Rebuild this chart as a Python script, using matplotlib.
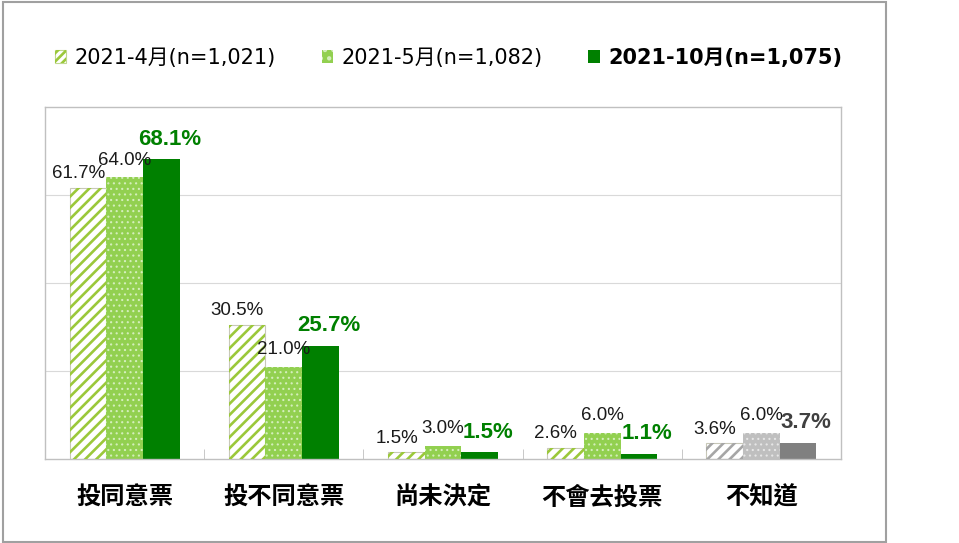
import matplotlib.pyplot as plt
from matplotlib.patches import Patch, Rectangle
from matplotlib.legend_handler import HandlerTuple
import numpy as np

plt.rcParams['font.family'] = ['Liberation Sans', 'Noto Sans CJK TC']
plt.rcParams['hatch.linewidth'] = 1.9

categories = ['投同意票', '投不同意票', '尚未決定', '不會去投票', '不知道']
series_names = ['2021-4月(n=1,021)', '2021-5月(n=1,082)', '2021-10月(n=1,075)']
apr = [61.7, 30.5, 1.5, 2.6, 3.6]
may = [64.0, 21.0, 3.0, 6.0, 6.0]
oct_ = [68.1, 25.7, 1.5, 1.1, 3.7]

# colours: green for the first four groups, grey for 不知道
stripe = ['#9bc83a'] * 4 + ['#a6a6a6']
dotted = ['#92d050'] * 4 + ['#bfbfbf']
dots = ['#d4eebc'] * 4 + ['#e6e6e6']
solid = ['#008000'] * 4 + ['#808080']
bold_txt = ['#008000'] * 4 + ['#404040']

fig = plt.figure(figsize=(9.59, 5.43), dpi=100)
ax = fig.add_axes([45 / 959, 84 / 543, 796 / 959, 352 / 543])

x = np.arange(len(categories))
w = 0.23

# hatched (April)
ax.bar(x - w, apr, w, color='white', edgecolor='#c8c8b8', linewidth=0.8, zorder=2)
ax.bar(x - w, apr, w, fill=False, edgecolor=stripe, hatch='///', linewidth=0, zorder=3)

# dotted (May)
ax.bar(x, may, w, color=dotted, linewidth=0, zorder=2)
d = ax.bar(x, may, w, fill=False, edgecolor=dots, hatch='...', linewidth=0, zorder=3)
for p in d:
    if hasattr(p, 'set_hatch_linewidth'):
        p.set_hatch_linewidth(0.8)

# solid (October)
ax.bar(x + w, oct_, w, color=solid, linewidth=0, zorder=2)

# value labels
for i in range(len(categories)):
    ax.annotate(f'{apr[i]:.1f}%', (x[i] - w, apr[i]), xytext=(-7, 4), textcoords='offset points',
                ha='center', va='bottom', fontsize=13.5, color='#1a1a1a', zorder=5)
    ax.annotate(f'{may[i]:.1f}%', (x[i], may[i]), xytext=(0, 6), textcoords='offset points',
                ha='center', va='bottom', fontsize=13.5, color='#1a1a1a', zorder=5)
    ax.annotate(f'{oct_[i]:.1f}%', (x[i] + w, oct_[i]), xytext=(6, 7), textcoords='offset points',
                ha='center', va='bottom', fontsize=16, fontweight='bold', color=bold_txt[i], zorder=5)

ax.set_xlim(-0.5, len(categories) - 0.5)
ax.set_ylim(0, 80)
ax.set_yticks([20, 40, 60])
ax.yaxis.grid(True, color='#d9d9d9', linewidth=0.8)
ax.set_axisbelow(True)
ax.tick_params(axis='y', length=0, labelleft=False)

ax.set_xticks(x)
ax.set_xticklabels(categories, fontsize=17.5, fontweight='bold', family=['Noto Sans CJK TC'])
ax.tick_params(axis='x', which='major', length=0, pad=19)
ax.set_xticks(np.arange(-0.5, len(categories)), minor=True)
ax.tick_params(axis='x', which='minor', direction='in', length=7, color='#bfbfbf')
for s in ax.spines.values():
    s.set_color('#c0c0c0')
    s.set_linewidth(1)

# legend
h1 = (Patch(facecolor='white', edgecolor='#c0d890', linewidth=0.8),
      Patch(fill=False, edgecolor=stripe[0], hatch='////', linewidth=0))
h2 = (Patch(facecolor=dotted[0], edgecolor='none'),
      Patch(fill=False, edgecolor=dots[0], hatch='..', linewidth=0))
h3 = Patch(facecolor=solid[0], edgecolor='none')
leg = fig.legend([h1, h2, h3], series_names, loc='center left',
                 bbox_to_anchor=(36 / 959, 1 - 58 / 543), ncol=3, frameon=False,
                 prop={'family': ['DejaVu Sans', 'Noto Sans CJK TC'], 'size': 15},
                 handlelength=0.55, handleheight=0.55, handletextpad=0.4,
                 columnspacing=2.2, handler_map={tuple: HandlerTuple(ndivide=1, pad=0)})
leg.get_texts()[2].set_fontweight('bold')

# outer frame
fig.add_artist(Rectangle((3 / 959, 1 / 543), 883 / 959, 540 / 543, transform=fig.transFigure,
                         fill=False, edgecolor='#a0a0a0', linewidth=1.5))

fig.savefig('out.png', dpi=100)
